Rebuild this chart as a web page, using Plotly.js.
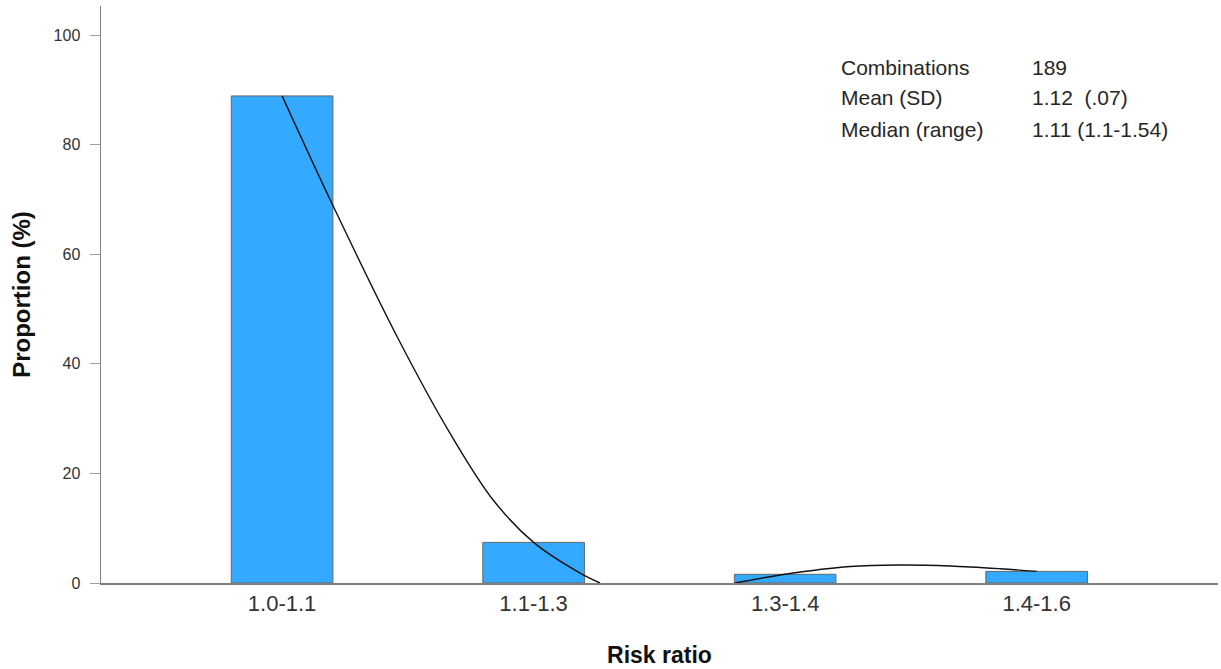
<!DOCTYPE html>
<html>
<head>
<meta charset="utf-8">
<script src="https://cdn.plot.ly/plotly-3.0.1.min.js"></script>
<style>
  html, body { margin: 0; padding: 0; background: #ffffff; }
  #chart { width: 1221px; height: 669px; }
</style>
</head>
<body>
<div id="chart"></div>
<script>
// Risk ratio bins and share of combinations in each (%)
const categories = ["1.0-1.1", "1.1-1.3", "1.3-1.4", "1.4-1.6"];
const proportions = [88.89, 7.41, 1.59, 2.12];

// Fitted density curve, traced as two visible pieces (it dips below zero between them)
const curveX = [1.0, 1.204, 1.458, 1.668, 1.84, 2.0, 2.185, 2.264, null, 2.801, 3.0, 3.258, 3.457, 3.656, 3.855, 4.0];
const curveY = [88.9, 68.7, 44.9, 27.3, 15.1, 7.41, 1.8, 0, null, 0, 1.59, 3.0, 3.28, 3.1, 2.6, 2.12];

// Summary statistics shown in the upper right
const statLabels = ["Combinations", "Mean (SD)", "Median (range)"];
const statValues = ["189", "1.12  (.07)", "1.11 (1.1-1.54)"];

const positions = categories.map((_, i) => i + 1);

const bars = {
  type: "bar",
  x: positions,
  y: proportions,
  width: 0.404,
  marker: { color: "#33aaff", line: { color: "#666666", width: 1 } },
  hoverinfo: "y"
};

const curve = {
  type: "scatter",
  mode: "lines",
  x: curveX,
  y: curveY,
  line: { color: "#111111", width: 1.4, shape: "spline", smoothing: 1 },
  connectgaps: false,
  hoverinfo: "skip"
};

const statFont = { family: "Liberation Sans, Arial, sans-serif", size: 21, color: "#262626" };
const rowY = [0.894, 0.8406, 0.7868];
const annotations = [];
statLabels.forEach((label, i) => {
  annotations.push({
    xref: "paper", yref: "paper", x: 0.661, y: rowY[i],
    xanchor: "left", yanchor: "middle", showarrow: false,
    text: label, font: statFont
  });
  annotations.push({
    xref: "paper", yref: "paper", x: 0.832, y: rowY[i],
    xanchor: "left", yanchor: "middle", showarrow: false,
    text: statValues[i], font: statFont
  });
});

const layout = {
  width: 1221,
  height: 669,
  margin: { l: 101, r: 3, t: 6, b: 86 },
  paper_bgcolor: "#ffffff",
  plot_bgcolor: "#ffffff",
  showlegend: false,
  font: { family: "Liberation Sans, Arial, sans-serif", color: "#222222" },
  xaxis: {
    range: [0.28, 4.721],
    tickmode: "array",
    tickvals: positions,
    ticktext: categories,
    ticks: "",
    showgrid: false,
    zeroline: false,
    showline: true,
    linecolor: "#808080",
    linewidth: 1.5,
    tickfont: { size: 22, color: "#333333" },
    title: { text: "Risk ratio", font: { size: 23, color: "#111111", weight: "bold" }, standoff: 32 }
  },
  yaxis: {
    range: [0, 105.3],
    tickvals: [0, 20, 40, 60, 80, 100],
    ticks: "outside",
    ticklen: 10,
    tickwidth: 1,
    tickcolor: "#a0a0a0",
    ticklabelstandoff: 6,
    showgrid: false,
    zeroline: false,
    showline: true,
    linecolor: "#808080",
    linewidth: 1.5,
    tickfont: { size: 16, color: "#333333" },
    title: { text: "Proportion (%)", font: { size: 24, color: "#111111", weight: "bold" }, standoff: 16 }
  },
  annotations: annotations
};

Plotly.newPlot("chart", [bars, curve], layout, { displayModeBar: false, staticPlot: true });
</script>
</body>
</html>
